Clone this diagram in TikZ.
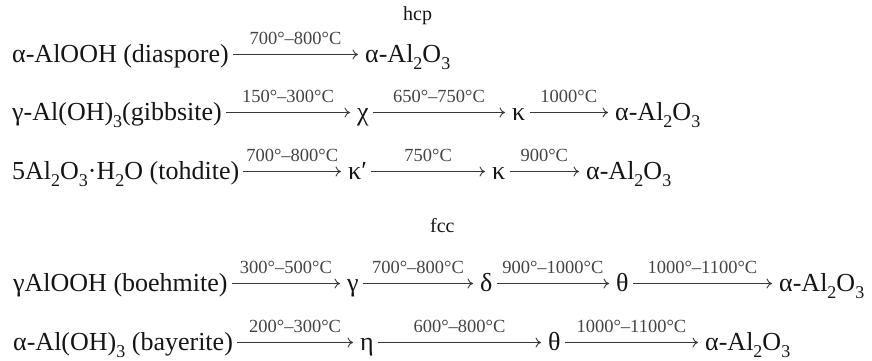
\documentclass[tikz,border=0pt]{standalone}
\usepackage{fontspec}
\setmainfont{Liberation Serif}
\usetikzlibrary{arrows.meta,calc}
\definecolor{txt}{HTML}{151515}
\definecolor{lbl}{HTML}{444444}
\newcommand{\sbs}[1]{\raisebox{-7.5pt}{\fontsize{18}{20}\selectfont #1}}
\newcommand{\rx}[4]{%
  \draw[rxn] ($(#1.base east)+(4,-7.5)$) -- ($(#2.base west)+(-7,-7.5)$)
    node[temp, pos=0.5, yshift=10pt] (#4) {#3};}
\begin{document}
\begin{tikzpicture}[x=1pt,y=-1pt,
  chem/.style={anchor=base west, inner sep=0pt, font=\fontsize{26}{30}\selectfont, text=txt},
  temp/.style={anchor=base, inner sep=0pt, font=\fontsize{18.5}{22}\selectfont, text=lbl},
  head/.style={anchor=base west, inner sep=0pt, font=\fontsize{20}{24}\selectfont, text=txt},
  rxn/.style={draw=txt!85, line width=0.9pt, -{To[length=5.5pt,width=10pt]}}]
\useasboundingbox (0,0) rectangle (872,360);
% hcp
\node[head] (hcp) at (403,20) {hcp};
% row 1
\node[chem] (a1) at (12,62) {α-AlOOH (diaspore)};
\node[chem] (a2) at (365,62) {α-Al\sbs{2}O\sbs{3}};
\rx{a1}{a2}{700°–800°C}{la1}
% row 2
\node[chem] (b1) at (12,120) {γ-Al(OH)\sbs{3}(gibbsite)};
\node[chem] (b2) at (357,120) {χ};
\node[chem] (b3) at (512,120) {κ};
\node[chem] (b4) at (615,120) {α-Al\sbs{2}O\sbs{3}};
\rx{b1}{b2}{150°–300°C}{lb1}
\rx{b2}{b3}{650°–750°C}{lb2}
\rx{b3}{b4}{1000°C}{lb3}
% row 3
\node[chem] (c1) at (12,179) {5Al\sbs{2}O\sbs{3}·H\sbs{2}O (tohdite)};
\node[chem] (c2) at (348,179) {κ′};
\node[chem] (c3) at (492,179) {κ};
\node[chem] (c4) at (586,179) {α-Al\sbs{2}O\sbs{3}};
\rx{c1}{c2}{700°–800°C}{lc1}
\rx{c2}{c3}{750°C}{lc2}
\rx{c3}{c4}{900°C}{lc3}
% fcc
\node[head] (fcc) at (430,232) {fcc};
% row 4
\node[chem] (d1) at (13,291) {γAlOOH (boehmite)};
\node[chem] (d2) at (347,291) {γ};
\node[chem] (d3) at (480,291) {δ};
\node[chem] (d4) at (616,291) {θ};
\node[chem] (d5) at (779,291) {α-Al\sbs{2}O\sbs{3}};
\rx{d1}{d2}{300°–500°C}{ld1}
\rx{d2}{d3}{700°–800°C}{ld2}
\rx{d3}{d4}{900°–1000°C}{ld3}
\rx{d4}{d5}{1000°–1100°C}{ld4}
% row 5
\node[chem] (e1) at (13,350) {α-Al(OH)\sbs{3} (bayerite)};
\node[chem] (e2) at (360,350) {η};
\node[chem] (e3) at (548,350) {θ};
\node[chem] (e4) at (705,350) {α-Al\sbs{2}O\sbs{3}};
\rx{e1}{e2}{200°–300°C}{le1}
\rx{e2}{e3}{600°–800°C}{le2}
\rx{e3}{e4}{1000°–1100°C}{le3}
\end{tikzpicture}
\end{document}
